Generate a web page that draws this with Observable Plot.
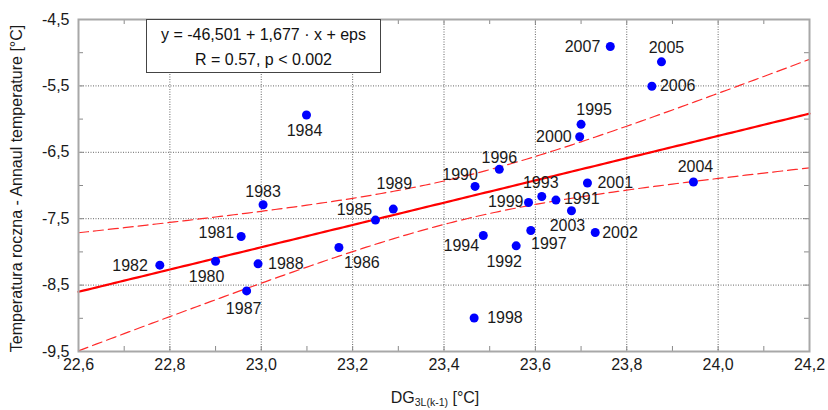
<!DOCTYPE html>
<html><head><meta charset="utf-8">
<script src="https://cdn.jsdelivr.net/npm/d3@7"></script>
<script src="https://cdn.jsdelivr.net/npm/@observablehq/plot@0.6"></script>
<style>
body{margin:0;background:#fff;}
#wrap{position:relative;width:828px;height:410px;font-family:"Liberation Sans",Arial,sans-serif;}
#eq{position:absolute;left:146px;top:19px;width:233px;height:50px;padding-top:2px;border:1px solid #444;background:#fff;text-align:center;font-size:16px;line-height:25px;color:#111;}
</style></head><body><div id="wrap"><div id="eq">y = -46,501 + 1,677 · x + eps<br>R = 0.57, p &lt; 0.002</div></div>
<script>
// ---- data ----
const years = [1980,1981,1982,1983,1984,1985,1986,1987,1988,1989,1990,1991,1992,1993,1994,1995,1996,1997,1998,1999,2000,2001,2002,2003,2004,2005,2006,2007];
const dg    = [22.900,22.956,22.778,23.004,23.099,23.250,23.170,22.968,22.993,23.289,23.468,23.645,23.558,23.614,23.486,23.700,23.521,23.590,23.466,23.585,23.697,23.714,23.731,23.679,23.946,23.876,23.855,23.764];
const temp  = [-8.14,-7.768,-8.20,-7.29,-5.938,-7.521,-7.934,-8.587,-8.18,-7.355,-7.014,-7.22,-7.909,-7.165,-7.753,-6.079,-6.757,-7.678,-8.995,-7.256,-6.265,-6.963,-7.708,-7.381,-6.948,-5.138,-5.506,-4.907];
const xTicks = [22.6,22.8,23.0,23.2,23.4,23.6,23.8,24.0,24.2];
const yTicks = [-9.5,-8.5,-7.5,-6.5,-5.5,-4.5];
const xGrid = [22.8,23.0,23.2,23.4,23.6,23.8,24.0];
const yGrid = [-8.5,-7.5,-6.5,-5.5];
const xMinor = [22.7,22.8,22.9,23.0,23.1,23.2,23.3,23.4,23.5,23.6,23.7,23.8,23.9,24.0,24.1];
const yMinor = [-9,-8.5,-8,-7.5,-7,-6.5,-6,-5.5,-5];
const intercept = -46.501, slope = 1.677, tCrit = 2.056;
const xDomain = [22.6, 24.2], yDomain = [-9.5, -4.5];

// ---- label placement (layout only) ----
const labelPos = {
  1980:[-9,16,"middle"],1981:[-7,-4,"end"],1982:[-12,1,"end"],1983:[0,-13,"middle"],
  1984:[-2,16,"middle"],1985:[-21,-10,"middle"],1986:[23,15,"middle"],1987:[-3,18,"middle"],
  1988:[10,0,"start"],1989:[1,-25,"middle"],1990:[-15,-12,"middle"],1991:[8,-1,"start"],
  1992:[-12,16,"middle"],1993:[-1,-14,"middle"],1994:[-22,10,"middle"],1995:[13,-14,"middle"],
  1996:[0,-11,"middle"],1997:[18,13,"middle"],1998:[13,0,"start"],1999:[-5,-1,"end"],
  2000:[-8,0,"end"],2001:[10,0,"start"],2002:[7,0,"start"],2003:[-4,15,"middle"],
  2004:[2,-15,"middle"],2005:[5,-14,"middle"],2006:[8,0,"start"],2007:[-10,0,"end"]
};

const W = 828, H = 410, mL = 78, mR = 19, mT = 19, mB = 59;
const innerW = W - mL - mR, innerH = H - mT - mB, tickLen = 5;

const pts = years.map((yr,i)=>({year:String(yr), x:dg[i], y:temp[i]}));
const n = pts.length;
const mx = d3.mean(dg);
const sxx = d3.sum(dg, v => (v-mx)**2);
const sse = d3.sum(pts, p => (p.y - (intercept + slope*p.x))**2);
const s = Math.sqrt(sse/(n-2));
const curve = d3.range(xDomain[0], xDomain[1]+1e-9, 0.01).map(x => {
  const f = intercept + slope*x;
  const hw = tCrit*s*Math.sqrt(1/n + (x-mx)**2/sxx);
  return {x, f, lo: f-hw, hi: f+hw};
});
const fmt = d => d.toFixed(1).replace(".", ",");
const gray = "#8a8a8a";

const chart = Plot.plot({
  width: W, height: H, marginLeft: mL, marginRight: mR, marginTop: mT, marginBottom: mB,
  style: {fontFamily: '"Liberation Sans", Arial, sans-serif', fontSize: "16px", color: "#1a1a1a", background: "#fff"},
  x: {domain: xDomain},
  y: {domain: yDomain},
  marks: [
    Plot.gridX(xGrid, {stroke: "#666", strokeOpacity: 1, strokeDasharray: "1,1.5"}),
    Plot.gridY(yGrid, {stroke: "#666", strokeOpacity: 1, strokeDasharray: "1,1.5"}),
    Plot.tickY(yMinor, {y: d=>d, insetRight: innerW - tickLen, stroke: gray}),
    Plot.tickY(yMinor, {y: d=>d, insetLeft: innerW - tickLen, stroke: gray}),
    Plot.tickX(xMinor, {x: d=>d, insetTop: innerH - tickLen, stroke: gray}),
    Plot.tickX(xMinor, {x: d=>d, insetBottom: innerH - tickLen, stroke: gray}),
    Plot.axisX(xTicks, {tickSize: 0, tickPadding: 7, tickFormat: fmt, label: null, fontSize: 16}),
    Plot.axisY(yTicks, {tickSize: 0, tickPadding: 9, tickFormat: fmt, label: null, fontSize: 16}),
    Plot.line(curve, {x: "x", y: "hi", stroke: "#ff2a2a", strokeWidth: 1.2, strokeDasharray: "10,5"}),
    Plot.line(curve, {x: "x", y: "lo", stroke: "#ff2a2a", strokeWidth: 1.2, strokeDasharray: "10,5"}),
    Plot.line(curve, {x: "x", y: "f", stroke: "#ff0000", strokeWidth: 2.2}),
    Plot.frame({stroke: "#a8a8a8", strokeWidth: 2}),
    Plot.dot(pts, {x: "x", y: "y", r: 4.5, fill: "#0000ff", stroke: "none"}),
    ...pts.map(p => {
      const [dx, dy, anchor] = labelPos[p.year];
      return Plot.text([p], {x: "x", y: "y", text: "year", dx, dy, textAnchor: anchor, fontSize: 16, fill: "#1a1a1a"});
    })
  ]
});

const svg = d3.select(chart);
// x axis title with subscript
const xt = svg.append("text").attr("x", 435).attr("y", 403).attr("text-anchor", "middle")
  .attr("font-size", 16).attr("fill", "#1a1a1a");
xt.append("tspan").text("DG");
xt.append("tspan").attr("font-size", 10.5).attr("dy", 3).text("3L(k-1)");
xt.append("tspan").attr("dy", -3).text(" [°C]");
// y axis title
svg.append("text").attr("transform", "translate(21.5,188.5) rotate(-90)").attr("text-anchor", "middle")
  .attr("font-size", 16).attr("fill", "#1a1a1a").text("Temperatura roczna - Annaul temperature [°C]");

const wrap = document.getElementById("wrap");
wrap.insertBefore(chart, wrap.firstChild);
chart.style.position = "absolute"; chart.style.left = "0"; chart.style.top = "0";
</script>
</body></html>
